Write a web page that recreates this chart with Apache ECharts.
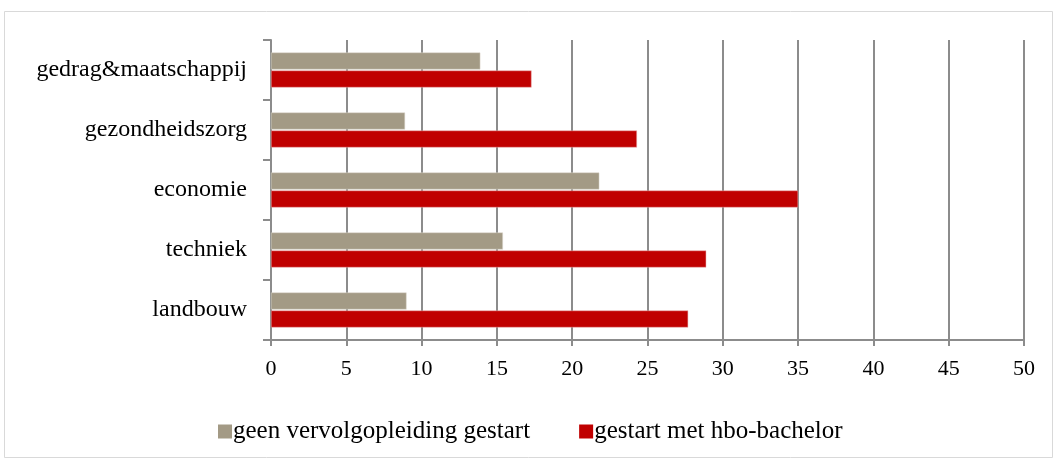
<!DOCTYPE html>
<html>
<head>
<meta charset="utf-8">
<script src="https://cdn.jsdelivr.net/npm/echarts@6/dist/echarts.min.js"></script>
<style>
  html, body { margin: 0; padding: 0; background: #fff; }
  #chart { width: 1054px; height: 459px; }
</style>
</head>
<body>
<div id="chart"></div>
<script>
// categories from bottom to top (category axis runs upward)
var categories = ['landbouw', 'techniek', 'economie', 'gezondheidszorg', 'gedrag&maatschappij'];
var geenVervolg = [9.0, 15.4, 21.8, 8.9, 13.9];
var gestartHbo = [27.7, 28.9, 35.0, 24.3, 17.3];
var xTicks = { min: 0, max: 50, interval: 5 };

var serif = '"Liberation Serif", "DejaVu Serif", serif';
var gridColor = '#8c8c8c';

var myChart = echarts.init(document.getElementById('chart'));
myChart.setOption({
    animation: false,
    backgroundColor: '#fff',
    textStyle: { fontFamily: serif },
    graphic: [{
        type: 'rect',
        shape: { x: 4.5, y: 11.5, width: 1048, height: 446 },
        style: { fill: 'none', stroke: '#d9d9d9', lineWidth: 1 },
        silent: true
    }],
    grid: { left: 271, right: 30, top: 40, height: 300, containLabel: false },
    legend: {
        data: ['geen vervolgopleiding gestart', 'gestart met hbo-bachelor'],
        left: 213,
        top: 414,
        itemWidth: 14,
        itemHeight: 14,
        itemGap: 49,
        icon: 'rect',
        itemStyle: { borderWidth: 0 },
        textStyle: { fontFamily: serif, fontSize: 25, color: '#000', padding: [0, 0, 0, -4] }
    },
    xAxis: {
        type: 'value',
        min: xTicks.min,
        max: xTicks.max,
        interval: xTicks.interval,
        axisLine: { show: true, lineStyle: { color: gridColor, width: 2 } },
        axisTick: { show: true, length: 6, lineStyle: { color: gridColor, width: 2 } },
        splitLine: { show: true, lineStyle: { color: gridColor, width: 2 } },
        axisLabel: { color: '#000', fontFamily: serif, fontSize: 22, margin: 18 }
    },
    yAxis: {
        type: 'category',
        data: categories,
        axisLine: { show: true, lineStyle: { color: gridColor, width: 2 } },
        axisTick: { show: true, length: 8, lineStyle: { color: gridColor, width: 2 } },
        axisLabel: { color: '#000', fontFamily: serif, fontSize: 24, margin: 24 }
    },
    series: [
        {
            name: 'geen vervolgopleiding gestart',
            type: 'bar',
            data: geenVervolg,
            barWidth: 17,
            barGap: '6%',
            itemStyle: { color: '#a39a85', borderColor: '#dcd8cf', borderWidth: 0.5 }
        },
        {
            name: 'gestart met hbo-bachelor',
            type: 'bar',
            data: gestartHbo,
            barWidth: 17,
            barGap: '6%',
            itemStyle: { color: '#c00000', borderColor: '#e8b0b0', borderWidth: 0.5 }
        }
    ]
});
</script>
</body>
</html>
